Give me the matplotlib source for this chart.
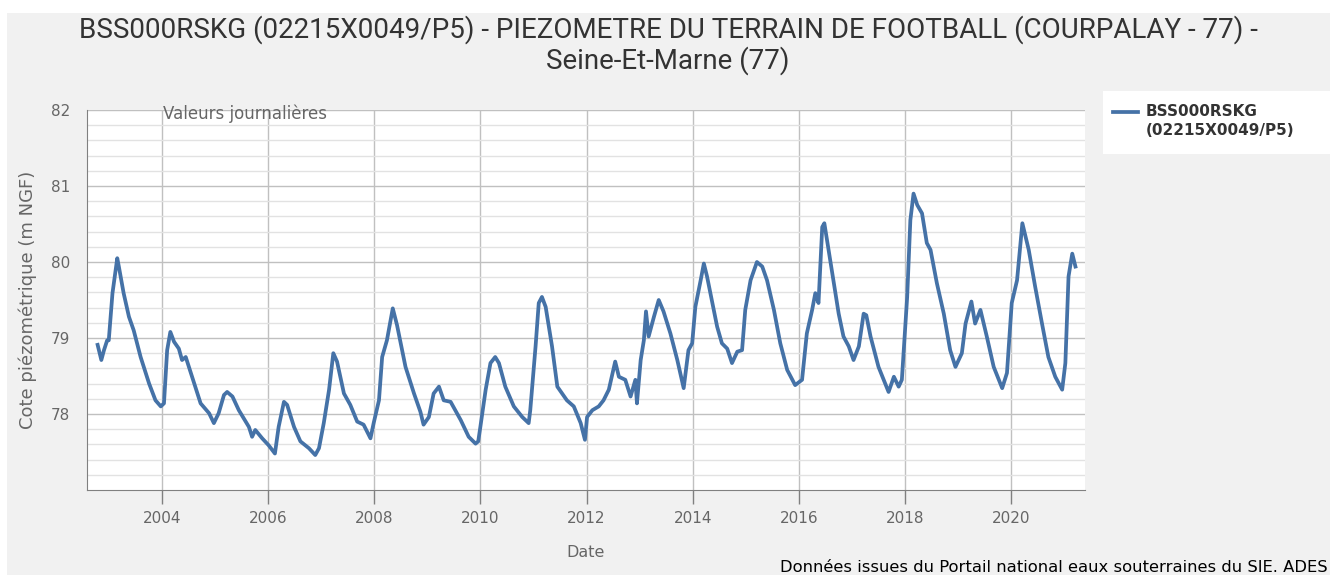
import matplotlib
matplotlib.use("Agg")
import matplotlib.pyplot as plt
from matplotlib.patches import Rectangle
from matplotlib.lines import Line2D
import numpy as np

# dates (decimal years) and levels (m NGF)
years = [2002.79, 2002.86, 2002.91, 2002.97, 2003.00, 2003.07, 2003.16, 2003.19, 2003.28, 2003.38,
         2003.47, 2003.60, 2003.76, 2003.88, 2003.98, 2004.04, 2004.10, 2004.16, 2004.23, 2004.32,
         2004.38, 2004.45, 2004.57, 2004.73, 2004.89, 2004.98, 2005.07, 2005.17, 2005.23, 2005.33,
         2005.45, 2005.64, 2005.70, 2005.76, 2005.89, 2006.01, 2006.13, 2006.20, 2006.30, 2006.36,
         2006.49, 2006.61, 2006.77, 2006.89, 2006.96, 2007.05, 2007.15, 2007.23, 2007.30, 2007.43,
         2007.55, 2007.68, 2007.80, 2007.93, 2007.99, 2008.09, 2008.15, 2008.24, 2008.35, 2008.43,
         2008.59, 2008.75, 2008.87, 2008.93, 2009.03, 2009.12, 2009.22, 2009.31, 2009.44, 2009.63,
         2009.78, 2009.91, 2009.96, 2010.00, 2010.10, 2010.19, 2010.28, 2010.35, 2010.47, 2010.63,
         2010.79, 2010.91, 2010.94, 2011.04, 2011.10, 2011.16, 2011.23, 2011.35, 2011.45, 2011.54,
         2011.63, 2011.76, 2011.89, 2011.97, 2012.01, 2012.11, 2012.23, 2012.32, 2012.42, 2012.54,
         2012.61, 2012.73, 2012.83, 2012.92, 2012.95, 2013.02, 2013.08, 2013.12, 2013.17, 2013.27,
         2013.36, 2013.45, 2013.58, 2013.71, 2013.83, 2013.92, 2013.99, 2014.05, 2014.15, 2014.21,
         2014.27, 2014.37, 2014.46, 2014.55, 2014.65, 2014.74, 2014.84, 2014.93, 2014.99, 2015.09,
         2015.21, 2015.31, 2015.40, 2015.53, 2015.65, 2015.78, 2015.93, 2016.06, 2016.15, 2016.25,
         2016.31, 2016.37, 2016.44, 2016.48, 2016.56, 2016.66, 2016.75, 2016.84, 2016.94, 2017.03,
         2017.13, 2017.22, 2017.27, 2017.35, 2017.50, 2017.69, 2017.79, 2017.88, 2017.94, 2018.04,
         2018.10, 2018.16, 2018.23, 2018.32, 2018.41, 2018.48, 2018.60, 2018.73, 2018.85, 2018.95,
         2019.07, 2019.14, 2019.25, 2019.32, 2019.42, 2019.54, 2019.67, 2019.83, 2019.92, 2020.01,
         2020.11, 2020.21, 2020.33, 2020.45, 2020.58, 2020.70, 2020.83, 2020.96, 2021.02, 2021.08,
         2021.15, 2021.21]
levels = [78.91, 78.71, 78.84, 78.97, 78.97, 79.59, 80.05, 79.94, 79.59, 79.28,
          79.10, 78.75, 78.40, 78.18, 78.10, 78.14, 78.84, 79.08, 78.95, 78.86,
          78.71, 78.75, 78.49, 78.14, 78.01, 77.88, 78.01, 78.25, 78.29, 78.23,
          78.05, 77.83, 77.70, 77.79, 77.68, 77.59, 77.48, 77.83, 78.16, 78.12,
          77.83, 77.64, 77.55, 77.46, 77.55, 77.88, 78.32, 78.80, 78.69, 78.27,
          78.12, 77.90, 77.86, 77.68, 77.88, 78.18, 78.75, 78.97, 79.39, 79.17,
          78.62, 78.27, 78.03, 77.86, 77.96, 78.27, 78.36, 78.18, 78.16, 77.92,
          77.70, 77.61, 77.64, 77.83, 78.32, 78.67, 78.75, 78.67, 78.36, 78.10,
          77.96, 77.88, 78.05, 78.89, 79.46, 79.54, 79.41, 78.89, 78.36, 78.27,
          78.18, 78.10, 77.88, 77.66, 77.96, 78.05, 78.10, 78.18, 78.32, 78.69,
          78.49, 78.45, 78.23, 78.45, 78.14, 78.71, 78.97, 79.35, 79.02, 79.28,
          79.50, 79.35, 79.06, 78.71, 78.34, 78.84, 78.93, 79.41, 79.76, 79.98,
          79.81, 79.46, 79.15, 78.93, 78.86, 78.67, 78.82, 78.84, 79.37, 79.76,
          80.00, 79.94, 79.76, 79.37, 78.93, 78.58, 78.38, 78.45, 79.06, 79.37,
          79.59, 79.46, 80.46, 80.51, 80.16, 79.72, 79.32, 79.02, 78.89, 78.71,
          78.89, 79.32, 79.30, 79.02, 78.62, 78.29, 78.49, 78.36, 78.45, 79.54,
          80.55, 80.90, 80.75, 80.64, 80.25, 80.16, 79.72, 79.32, 78.84, 78.62,
          78.80, 79.19, 79.48, 79.19, 79.37, 79.02, 78.62, 78.34, 78.54, 79.46,
          79.76, 80.51, 80.16, 79.68, 79.19, 78.75, 78.49, 78.32, 78.67, 79.81,
          80.11, 79.94]

SERIES = "BSS000RSKG\n(02215X0049/P5)"
TITLE = "BSS000RSKG (02215X0049/P5) - PIEZOMETRE DU TERRAIN DE FOOTBALL (COURPALAY - 77) -\nSeine-Et-Marne (77)"
LINE_COLOR = "#4572A7"
W, H = 1330, 575

fig = plt.figure(figsize=(W / 100, H / 100), dpi=100, facecolor="white")
fig.patches.append(Rectangle((7 / W, 0), 1, 1 - 13 / H, transform=fig.transFigure,
                             facecolor="#f1f1f1", edgecolor="none", zorder=-10))

ax = fig.add_axes([87 / W, 1 - 490 / H, (1085 - 87) / W, (490 - 110) / H])
ax.set_facecolor("white")
ax.plot(years, levels, color=LINE_COLOR, lw=2.7, solid_joinstyle="round", zorder=5)

ax.set_xlim(2002.59, 2021.39)
ax.set_ylim(77, 82)
ax.set_xticks(np.arange(2004, 2021, 2))
ax.set_yticks([78, 79, 80, 81, 82])
ax.set_yticks(np.arange(77.2, 82, 0.2), minor=True)
ax.grid(axis="y", which="minor", color="#e2e2e2", lw=1.0)
ax.grid(axis="y", which="major", color="#c0c0c0", lw=1.0)
ax.grid(axis="x", which="major", color="#c0c0c0", lw=1.0)
ax.tick_params(axis="y", which="both", length=0, pad=12, labelsize=11, labelcolor="#666666")
ax.tick_params(axis="x", which="major", length=10, width=1, color="#808080", pad=5,
               labelsize=11, labelcolor="#666666")
ax.tick_params(axis="x", which="minor", length=0)
for side in ["top", "right"]:
    ax.spines[side].set_visible(False)
ax.spines["left"].set_color("#808080")
ax.spines["bottom"].set_color("#808080")
ax.set_axisbelow(True)

ax.set_xlabel("Date", fontsize=11.5, color="#666666", labelpad=14)
ax.set_ylabel("Cote piézométrique (m NGF)", fontsize=13, color="#666666", labelpad=10)
ax.text(163 / W, 1 - 114 / H, "Valeurs journalières", transform=fig.transFigure,
        fontsize=12, color="#666666", ha="left", va="center", zorder=6)

fig.text(668 / W, 1 - 45 / H, TITLE, ha="center", va="center", fontsize=20,
         color="#333333", family="Roboto", linespacing=1.1)

# legend box
fig.patches.append(Rectangle((1103 / W, 1 - 154 / H), 1, 63 / H, transform=fig.transFigure,
                             facecolor="white", edgecolor="none", zorder=-5))
fig.lines.append(Line2D([1113 / W, 1138 / W], [1 - 112 / H, 1 - 112 / H],
                        transform=fig.transFigure, color=LINE_COLOR, lw=2.7))
fig.text(1146 / W, 1 - 121 / H, SERIES, ha="left", va="center", fontsize=11,
         fontweight="bold", color="#333333", linespacing=1.3)

fig.text(1328 / W, 1 - 567 / H, "Données issues du Portail national eaux souterraines du SIE. ADES",
         ha="right", va="center", fontsize=11.8, color="black")

fig.savefig("out.png", dpi=100, facecolor=fig.get_facecolor())
